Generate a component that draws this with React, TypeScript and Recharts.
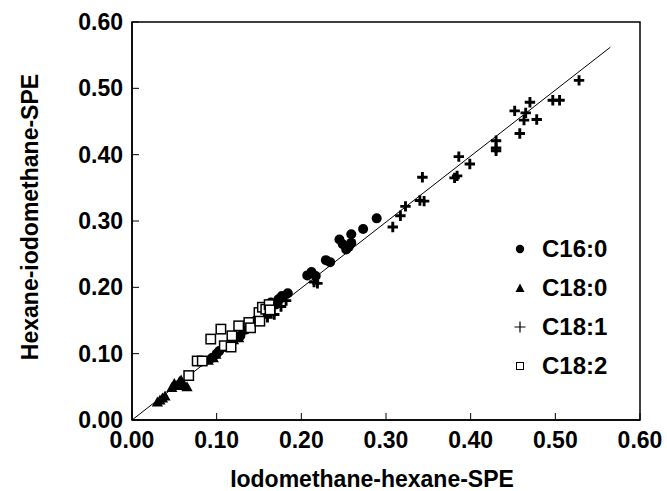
import React from 'react';
import {
  ScatterChart, Scatter, XAxis, YAxis, ReferenceArea, ReferenceLine, Legend,
} from 'recharts';

// ---- data ----
const C16_0 = [
  { x: 0.095, y: 0.094 }, { x: 0.100, y: 0.100 }, { x: 0.103, y: 0.104 }, { x: 0.110, y: 0.110 },
  { x: 0.118, y: 0.118 }, { x: 0.124, y: 0.125 }, { x: 0.128, y: 0.127 }, { x: 0.134, y: 0.136 },
  { x: 0.140, y: 0.145 }, { x: 0.146, y: 0.150 }, { x: 0.152, y: 0.156 }, { x: 0.160, y: 0.166 },
  { x: 0.164, y: 0.177 }, { x: 0.170, y: 0.174 }, { x: 0.173, y: 0.182 }, { x: 0.177, y: 0.187 },
  { x: 0.184, y: 0.191 }, { x: 0.207, y: 0.218 }, { x: 0.212, y: 0.223 }, { x: 0.217, y: 0.217 },
  { x: 0.229, y: 0.241 }, { x: 0.234, y: 0.238 }, { x: 0.245, y: 0.272 }, { x: 0.249, y: 0.265 },
  { x: 0.253, y: 0.257 }, { x: 0.259, y: 0.267 }, { x: 0.259, y: 0.280 }, { x: 0.256, y: 0.261 },
  { x: 0.273, y: 0.288 }, { x: 0.289, y: 0.304 },
];
const C18_0 = [
  { x: 0.030, y: 0.027 }, { x: 0.033, y: 0.030 }, { x: 0.036, y: 0.033 }, { x: 0.039, y: 0.036 },
  { x: 0.047, y: 0.049 }, { x: 0.050, y: 0.055 }, { x: 0.053, y: 0.052 }, { x: 0.056, y: 0.058 },
  { x: 0.059, y: 0.055 }, { x: 0.062, y: 0.052 }, { x: 0.065, y: 0.050 }, { x: 0.058, y: 0.060 },
  { x: 0.090, y: 0.090 }, { x: 0.096, y: 0.094 }, { x: 0.099, y: 0.099 }, { x: 0.120, y: 0.121 },
  { x: 0.126, y: 0.124 },
];
const C18_1 = [
  { x: 0.150, y: 0.150 }, { x: 0.160, y: 0.155 }, { x: 0.168, y: 0.159 }, { x: 0.176, y: 0.171 },
  { x: 0.182, y: 0.180 }, { x: 0.215, y: 0.208 }, { x: 0.219, y: 0.206 }, { x: 0.308, y: 0.291 },
  { x: 0.317, y: 0.308 }, { x: 0.323, y: 0.322 }, { x: 0.340, y: 0.331 }, { x: 0.345, y: 0.330 },
  { x: 0.343, y: 0.366 }, { x: 0.381, y: 0.365 }, { x: 0.384, y: 0.368 }, { x: 0.386, y: 0.397 },
  { x: 0.399, y: 0.386 }, { x: 0.430, y: 0.421 }, { x: 0.430, y: 0.410 }, { x: 0.430, y: 0.406 },
  { x: 0.458, y: 0.432 }, { x: 0.452, y: 0.466 }, { x: 0.465, y: 0.463 }, { x: 0.470, y: 0.479 },
  { x: 0.463, y: 0.452 }, { x: 0.478, y: 0.453 }, { x: 0.497, y: 0.482 }, { x: 0.505, y: 0.482 },
  { x: 0.528, y: 0.512 },
];
const C18_2 = [
  { x: 0.067, y: 0.067 }, { x: 0.077, y: 0.089 }, { x: 0.083, y: 0.089 }, { x: 0.093, y: 0.122 },
  { x: 0.105, y: 0.137 }, { x: 0.109, y: 0.112 }, { x: 0.117, y: 0.110 }, { x: 0.118, y: 0.127 },
  { x: 0.126, y: 0.142 }, { x: 0.138, y: 0.147 }, { x: 0.140, y: 0.139 }, { x: 0.150, y: 0.162 },
  { x: 0.151, y: 0.149 }, { x: 0.154, y: 0.170 }, { x: 0.158, y: 0.167 }, { x: 0.162, y: 0.174 },
  { x: 0.163, y: 0.166 },
];
const TICKS = [0, 0.1, 0.2, 0.3, 0.4, 0.5, 0.6];
const FIT_START = { x: 0, y: 0 };
const FIT_END = { x: 0.565, y: 0.562 };
const SERIES_NAMES = ['C16:0', 'C18:0', 'C18:1', 'C18:2'];
const X_TITLE = 'Iodomethane-hexane-SPE';
const Y_TITLE = 'Hexane-iodomethane-SPE';

const FONT = '"Liberation Sans", Arial, Helvetica, sans-serif';

// ---- marker shapes ----
const CircleShape = (p: any) => <circle cx={p.cx} cy={p.cy} r={5} fill="#000" />;
const TriangleShape = (p: any) => {
  const s = 5.6;
  return (
    <polygon
      points={`${p.cx},${p.cy - s} ${p.cx + s},${p.cy + s * 0.8} ${p.cx - s},${p.cy + s * 0.8}`}
      fill="#000"
    />
  );
};
const PlusShape = (p: any) => {
  const a = 5.2;
  return (
    <path
      d={`M${p.cx - a},${p.cy}H${p.cx + a}M${p.cx},${p.cy - a}V${p.cy + a}`}
      stroke="#000"
      strokeWidth={2.9}
      fill="none"
    />
  );
};
const SquareShape = (p: any) => (
  <rect x={p.cx - 4.7} y={p.cy - 4.7} width={9.4} height={9.4} fill="#fff" stroke="#000" strokeWidth={1.5} />
);

const legendIcon = (i: number) => {
  switch (i) {
    case 0:
      return <circle cx={8} cy={8} r={4.2} fill="#000" />;
    case 1:
      return <polygon points="8,3.5 12.5,12 3.5,12" fill="#000" />;
    case 2:
      return <path d="M2.5,8H13.5M8,2.5V13.5" stroke="#000" strokeWidth={1.2} fill="none" />;
    default:
      return <rect x={4.5} y={4.5} width={7} height={7} fill="#fff" stroke="#000" strokeWidth={1} />;
  }
};

const LegendContent = () => (
  <div style={{ fontFamily: FONT, fontWeight: 'bold', fontSize: 24, color: '#000' }}>
    {SERIES_NAMES.map((n, i) => (
      <div key={n} style={{ display: 'flex', alignItems: 'center', height: 39 }}>
        <svg width={16} height={16} style={{ marginRight: 14 }}>{legendIcon(i)}</svg>
        <span style={{ lineHeight: '39px' }}>{n}</span>
      </div>
    ))}
  </div>
);

const XTitle = (props: any) => {
  const vb = props.viewBox || { x: 132, width: 508 };
  return (
    <text
      x={vb.x + vb.width / 2 - 14}
      y={487}
      textAnchor="middle"
      fontFamily={FONT}
      fontWeight="bold"
      fontSize={23}
      fill="#000"
    >
      {X_TITLE}
    </text>
  );
};

const YTitle = (props: any) => {
  const vb = props.viewBox || { y: 22, height: 398 };
  const cy = vb.y + vb.height / 2 - 4;
  return (
    <text
      x={38}
      y={cy}
      transform={`rotate(-90, 38, ${cy})`}
      textAnchor="middle"
      fontFamily={FONT}
      fontWeight="bold"
      fontSize={23}
      fill="#000"
    >
      {Y_TITLE}
    </text>
  );
};

const tickStyle = { fontFamily: FONT, fontWeight: 'bold', fontSize: 23, fill: '#000' };

export default function App() {
  return (
    <div style={{ width: 667, height: 491, background: '#fff' }}>
      <style>{`body{margin:0;overflow:hidden;background:#fff}`}</style>
      <ScatterChart
        width={667}
        height={491}
        margin={{ top: 22, right: 27, left: 0, bottom: 0 }}
      >
        <XAxis
          type="number"
          dataKey="x"
          domain={[0, 0.6]}
          ticks={TICKS}
          tickFormatter={(v: number) => v.toFixed(2)}
          tickSize={-7}
          tickMargin={19}
          height={71}
          tick={tickStyle}
          axisLine={{ stroke: '#000', strokeWidth: 1.5 }}
          tickLine={{ stroke: '#000', strokeWidth: 1 }}
          allowDataOverflow
          label={(p: any) => <XTitle {...p} />}
        />
        <YAxis
          type="number"
          dataKey="y"
          domain={[0, 0.6]}
          ticks={TICKS}
          tickFormatter={(v: number) => v.toFixed(2)}
          tickSize={-7}
          tickMargin={16}
          width={132}
          tick={tickStyle}
          axisLine={{ stroke: '#000', strokeWidth: 1.5 }}
          tickLine={{ stroke: '#000', strokeWidth: 1 }}
          allowDataOverflow
          label={(p: any) => <YTitle {...p} />}
        />
        <ReferenceArea
          x1={0}
          x2={0.6}
          y1={0}
          y2={0.6}
          fill="none"
          fillOpacity={0}
          stroke="#000"
          strokeWidth={1.5}
        />
        <ReferenceLine
          segment={[FIT_START, FIT_END]}
          stroke="#000"
          strokeWidth={1}
        />
        <Scatter name="C16:0" data={C16_0} shape={CircleShape} isAnimationActive={false} />
        <Scatter name="C18:0" data={C18_0} shape={TriangleShape} isAnimationActive={false} />
        <Scatter name="C18:1" data={C18_1} shape={PlusShape} isAnimationActive={false} />
        <Scatter name="C18:2" data={C18_2} shape={SquareShape} isAnimationActive={false} />
        <Legend
          layout="horizontal"
          verticalAlign="middle"
          align="center"
          content={() => <LegendContent />}
          wrapperStyle={{ left: 512, top: 229, width: 140, height: 160 }}
        />
      </ScatterChart>
    </div>
  );
}
